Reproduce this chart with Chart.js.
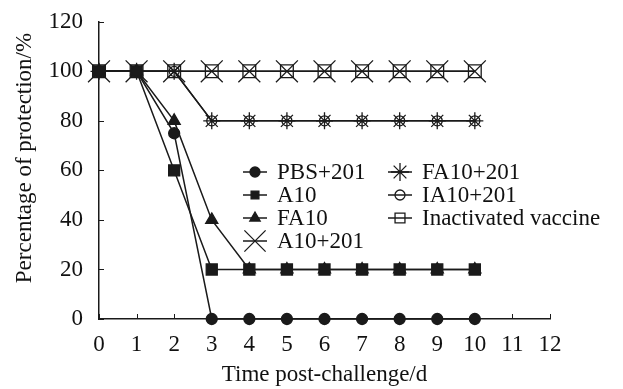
<!DOCTYPE html>
<html>
<head>
<meta charset="utf-8">
<script src="https://cdn.jsdelivr.net/npm/chart.js@4"></script>
<style>
  html, body { margin: 0; padding: 0; background: #fff; }
</style>
</head>
<body>
<canvas id="chart" width="623" height="389"></canvas>
<script>
// Days after challenge
const days = [0, 1, 2, 3, 4, 5, 6, 7, 8, 9, 10];

// Protection (%) per group
const pbs201 = [100, 100, 75, 0, 0, 0, 0, 0, 0, 0, 0];
const a10 = [100, 100, 60, 20, 20, 20, 20, 20, 20, 20, 20];
const fa10 = [100, 100, 80, 40, 20, 20, 20, 20, 20, 20, 20];
const a10201 = [100, 100, 100, 100, 100, 100, 100, 100, 100, 100, 100];
const fa10201 = [100, 100, 100, 80, 80, 80, 80, 80, 80, 80, 80];
const ia10201 = [100, 100, 100, 80, 80, 80, 80, 80, 80, 80, 80];
const inactivated = [100, 100, 100, 100, 100, 100, 100, 100, 100, 100, 100];

const yTitle = 'Percentage of protection/%';
const xTitle = 'Time post-challenge/d';

const INK = '#1a1a1a';
const FONT = 'Liberation Serif';
const FSIZE = 23;

function pts(values) {
    return days.map((d, i) => ({ x: d, y: values[i] }));
}

function series(label, values, style, radius, filled, legendRadius, legendCol, legendRow) {
    return {
        label: label,
        data: pts(values),
        borderColor: INK,
        borderWidth: 1.5,
        pointStyle: style,
        pointRadius: radius,
        pointBorderColor: INK,
        pointBorderWidth: 1.3,
        pointBackgroundColor: filled ? INK : 'rgba(0,0,0,0)',
        pointHoverRadius: radius,
        clip: false,
        legendRadius: legendRadius,
        legendCol: legendCol,
        legendRow: legendRow
    };
}

// Legend drawn inside the plot area in two columns
const legendPlugin = {
    id: 'boxLegend',
    afterDatasetsDraw(chart) {
        const ctx = chart.ctx;
        const colX = [255, 400];
        const rowY = [172, 195, 218, 241];
        ctx.save();
        chart.data.datasets.forEach(ds => {
            const cx = colX[ds.legendCol];
            const cy = rowY[ds.legendRow];
            ctx.strokeStyle = INK;
            ctx.lineWidth = 1.5;
            ctx.beginPath();
            ctx.moveTo(cx - 12, cy);
            ctx.lineTo(cx + 12, cy);
            ctx.stroke();
            ctx.fillStyle = ds.pointBackgroundColor;
            ctx.strokeStyle = INK;
            ctx.lineWidth = 1.3;
            Chart.helpers.drawPoint(ctx, {
                pointStyle: ds.pointStyle,
                radius: ds.legendRadius,
                rotation: 0,
                borderWidth: 1.3
            }, cx, cy);
            ctx.fillStyle = '#111';
            ctx.font = FSIZE + 'px "' + FONT + '"';
            ctx.textAlign = 'left';
            ctx.textBaseline = 'middle';
            ctx.fillText(ds.label, cx + 22, cy + 1);
        });
        ctx.restore();
    }
};

// Inward tick marks on both axes, plus the rotated y title
const innerTicks = {
    id: 'innerTicks',
    afterDraw(chart) {
        const ctx = chart.ctx;
        const xs = chart.scales.x;
        const ys = chart.scales.y;
        ctx.save();
        ctx.strokeStyle = INK;
        ctx.lineWidth = 1;
        ctx.beginPath();
        xs.ticks.forEach(t => {
            const px = Math.round(xs.getPixelForValue(t.value)) + 0.5;
            ctx.moveTo(px, ys.bottom);
            ctx.lineTo(px, ys.bottom - 5);
        });
        ys.ticks.forEach(t => {
            const py = Math.round(ys.getPixelForValue(t.value)) + 0.5;
            ctx.moveTo(xs.left, py);
            ctx.lineTo(xs.left + 5, py);
        });
        ctx.stroke();

        ctx.translate(25, 158);
        ctx.rotate(-Math.PI / 2);
        ctx.fillStyle = '#111';
        ctx.font = FSIZE + 'px "' + FONT + '"';
        ctx.textAlign = 'center';
        ctx.textBaseline = 'middle';
        ctx.fillText(yTitle, 0, 0);
        ctx.restore();
    }
};

new Chart(document.getElementById('chart').getContext('2d'), {
    type: 'line',
    data: {
        datasets: [
            series('PBS+201', pbs201, 'circle', 5.5, true, 5, 0, 0),
            series('A10', a10, 'rect', 7.8, true, 5.5, 0, 1),
            series('FA10', fa10, 'triangle', 7, true, 6, 0, 2),
            series('A10+201', a10201, 'crossRot', 15.5, false, 15, 0, 3),
            series('FA10+201', fa10201, 'star', 8.5, false, 9, 1, 0),
            series('IA10+201', ia10201, 'circle', 5, false, 5, 1, 1),
            series('Inactivated vaccine', inactivated, 'rect', 9, false, 7, 1, 2)
        ]
    },
    options: {
        responsive: false,
        animation: false,
        events: [],
        layout: { padding: { top: 13, right: 73, left: 0, bottom: 0 } },
        plugins: {
            legend: { display: false },
            tooltip: { enabled: false }
        },
        scales: {
            x: {
                type: 'linear',
                min: 0,
                max: 12,
                afterFit: s => { s.height = 70; },
                grid: { display: false },
                border: { display: true, color: INK, width: 1.5 },
                ticks: {
                    stepSize: 1,
                    color: '#111',
                    padding: 4,
                    font: { family: FONT, size: FSIZE }
                },
                title: {
                    display: true,
                    text: xTitle,
                    color: '#111',
                    padding: { top: 2, bottom: 0 },
                    font: { family: FONT, size: FSIZE }
                }
            },
            y: {
                min: 0,
                max: 120,
                afterFit: s => { s.width = 99; },
                grid: { display: false },
                border: { display: true, color: INK, width: 1.5 },
                ticks: {
                    stepSize: 20,
                    color: '#111',
                    padding: 8,
                    font: { family: FONT, size: FSIZE }
                },
                title: { display: false }
            }
        }
    },
    plugins: [legendPlugin, innerTicks]
});
</script>
</body>
</html>
